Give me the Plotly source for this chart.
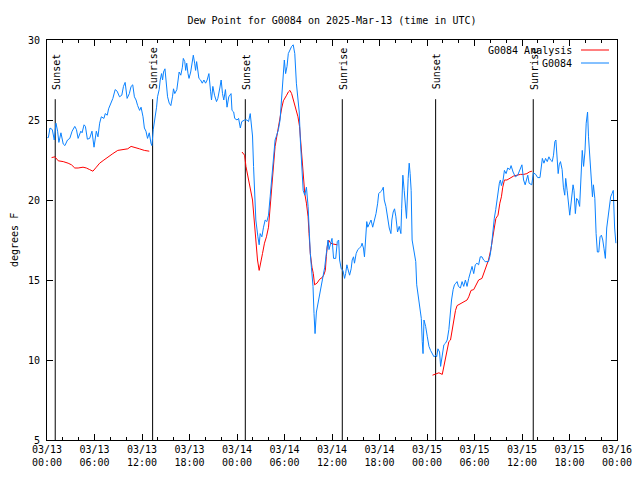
import pandas as pd
import plotly.graph_objects as go

START = pd.Timestamp("2025-03-13 00:00")
END = pd.Timestamp("2025-03-16 00:00")

# Observed dew point (G0084): hours since start, degrees F
obs_hours = [0.05, 0.17, 0.38, 0.67, 0.92, 1.13, 1.34, 1.5, 1.76, 2.05, 2.26, 2.59, 2.88, 3.17, 3.51, 3.72, 3.93,
             4.27, 4.43, 4.68, 4.85, 5.1, 5.39, 5.68, 5.94, 6.23, 6.44, 6.65, 6.86, 7.19, 7.36, 7.61, 7.78, 8.03,
             8.32, 8.61, 8.86, 9.16, 9.45, 9.66, 9.87, 10.12, 10.4, 10.62, 10.83, 11.04, 11.25, 11.45, 11.7, 11.88,
             12.13, 12.3, 12.5, 12.7, 12.92, 13.13, 13.25, 13.42, 13.63, 13.84, 13.96, 14.17, 14.3, 14.47, 14.6,
             14.72, 14.9, 15.02, 15.23, 15.44, 15.64, 15.85, 15.98, 16.14, 16.4, 16.56, 16.69, 16.9, 17.1, 17.22,
             17.4, 17.52, 17.65, 17.81, 17.94, 18.15, 18.35, 18.48, 18.65, 18.77, 18.9, 19.07, 19.19, 19.4, 19.61,
             19.82, 20.03, 20.23, 20.45, 20.66, 20.78, 20.95, 21.16, 21.41, 21.58, 21.83, 22.0, 22.17, 22.33,
             22.54, 22.74, 22.96, 23.25, 23.37, 23.58, 23.71, 24.0, 24.2, 24.42, 24.6, 24.96, 25.25, 25.46, 25.67,
             25.8, 25.96, 26.09, 26.21, 26.38, 26.64, 26.8, 26.93, 27.14, 27.35, 27.56, 27.77, 27.98, 28.19, 28.4,
             28.6, 28.81, 29.02, 29.23, 29.44, 29.65, 29.86, 29.98, 30.14, 30.32, 30.48, 30.69, 30.9, 31.1, 31.3,
             31.5, 31.7, 31.86, 32.0, 32.15, 32.36, 32.56, 32.77, 32.98, 33.1, 33.26, 33.4, 33.6, 33.73, 33.86,
             34.03, 34.24, 34.45, 34.66, 34.86, 35.08, 35.28, 35.5, 35.62, 35.8, 36.0, 36.2, 36.47, 36.67, 36.84,
             36.96, 37.17, 37.38, 37.59, 37.72, 37.88, 38.0, 38.22, 38.42, 38.55, 38.72, 38.84, 39.05, 39.26,
             39.47, 39.68, 39.8, 39.97, 40.1, 40.23, 40.39, 40.52, 40.73, 40.93, 41.14, 41.35, 41.56, 41.77, 41.9,
             42.1, 42.31, 42.48, 42.6, 42.81, 43.02, 43.23, 43.44, 43.56, 43.73, 43.9, 44.07, 44.28, 44.49, 44.7,
             44.8, 44.95, 45.12, 45.24, 45.41, 45.62, 45.75, 45.87, 46.0, 46.12, 46.38, 46.58, 46.7, 46.9, 47.1,
             47.28, 47.4, 47.5, 47.62, 47.83, 48.04, 48.25, 48.45, 48.66, 48.88, 49.1, 49.22, 49.38, 49.59, 49.72,
             49.93, 50.13, 50.34, 50.55, 50.76, 50.97, 51.1, 51.3, 51.47, 51.64, 51.8, 51.97, 52.22, 52.43, 52.64,
             52.85, 53.06, 53.27, 53.48, 53.69, 53.9, 54.1, 54.31, 54.52, 54.73, 54.94, 55.15, 55.36, 55.77, 55.98,
             56.16, 56.33, 56.5, 56.68, 56.85, 56.97, 57.14, 57.27, 57.4, 57.61, 57.78, 57.99, 58.2, 58.45, 58.62,
             58.87, 59.16, 59.46, 59.71, 59.99, 60.2, 60.4, 60.73, 60.9, 61.23, 61.44, 61.73, 61.98, 62.27, 62.4,
             62.57, 62.77, 62.98, 63.19, 63.4, 63.6, 63.82, 63.98, 64.15, 64.28, 64.4, 64.57, 64.7, 64.86, 65.07,
             65.23, 65.4, 65.52, 65.7, 65.86, 66.03, 66.24, 66.45, 66.57, 66.74, 66.9, 67.07, 67.28, 67.49, 67.61,
             67.78, 67.95, 68.11, 68.28, 68.4, 68.57, 68.74, 68.9, 69.02, 69.2, 69.36, 69.52, 69.7, 69.86, 70.03,
             70.2, 70.36, 70.53, 70.7, 70.87, 71.03, 71.2, 71.37, 71.53, 71.7, 71.86]
obs_values = [23.9, 23.9, 24.5, 24.4, 23.75, 24.8, 24.3, 23.6, 24.2, 23.5, 23.4, 23.75, 23.85, 24.3, 24.6, 24.4, 23.85,
              24.3, 24.2, 24.7, 24.6, 23.8, 23.85, 24.3, 23.3, 24.3, 23.95, 24.8, 25.2, 25.1, 25.4, 25.3, 25.7, 26.0,
              26.35, 26.9, 26.8, 26.45, 26.55, 27.1, 27.35, 26.35, 26.65, 27.1, 27.2, 26.45, 26.25, 25.9, 25.6, 25.8,
              25.2, 24.5, 24.3, 23.85, 24.2, 23.55, 23.4, 24.4, 25.0, 25.8, 26.45, 26.9, 27.5, 27.9, 27.5,
              28.0, 28.2, 27.7, 26.45, 26.05, 25.9, 26.45, 26.95, 26.65, 26.9, 27.5, 28.0, 27.8, 28.3, 28.85,
              28.65, 28.1, 28.55, 27.9, 27.6, 28.0, 28.65, 29.05, 28.55, 28.1, 28.65, 28.1, 27.6, 27.5, 27.3,
              27.5, 27.3, 27.5, 27.9, 26.8, 26.25, 27.1, 26.55, 26.15, 26.35, 27.0, 27.5, 26.65, 26.25,
              26.9, 25.8, 26.45, 26.65, 25.6, 25.5, 25.1, 25.0, 25.1, 24.5, 24.9, 25.0, 25.0, 24.9, 25.4,
              24.7, 24.0, 22.1, 20.4, 18.75, 17.7, 17.2, 17.9, 17.7, 18.3, 18.75, 18.65, 19.05, 20.2, 21.45,
              22.7, 23.75, 24.05, 24.4, 25.0, 26.25, 27.7, 28.75, 27.9, 28.35, 29.15, 29.4, 29.6, 29.7, 29.15,
              27.3, 26.25, 25.5, 23.75, 22.3, 20.6, 20.3, 20.8, 19.6, 17.9, 16.65, 15.8, 14.6, 12.9, 11.65,
              13.0, 13.55, 14.15, 14.6, 15.0, 15.8, 16.65, 17.5, 16.9, 17.3, 17.6, 16.35, 16.35, 17.4, 17.5,
              16.25, 15.7, 15.6, 15.1, 15.4, 15.95, 15.7, 15.3, 15.7, 16.25, 16.45, 16.05, 16.65, 16.9,
              17.0, 17.1, 17.3, 17.0, 16.45, 17.9, 18.65, 18.3, 18.55, 18.75, 18.3, 18.65, 19.15, 19.8, 20.4,
              20.5, 20.6, 20.8, 20.0, 19.6, 18.95, 18.25, 17.9, 18.75, 19.25, 19.45, 18.95, 18.0, 18.35, 17.9,
              19.45, 21.55, 20.6, 19.6, 18.85, 21.35, 22.3, 21.65, 20.6, 17.5, 16.55, 16.15, 14.7, 13.95, 13.45,
              12.6, 11.15, 10.4, 12.5, 12.1, 11.45, 10.85, 10.6, 10.4, 10.2, 10.3, 10.2, 10.7, 10.5, 9.6,
              10.2, 10.95, 11.05, 11.25, 11.9, 13.2, 13.75, 14.4, 14.7, 14.8, 14.9, 14.6, 14.5, 14.9, 14.6,
              15.0, 14.6, 15.1, 15.5, 15.85, 15.4, 15.95, 16.05, 15.95, 16.45, 16.45, 16.25, 16.15, 16.15, 16.55,
              17.2, 18.1, 18.85, 19.4, 20.0, 20.6, 21.05, 21.25, 20.9, 21.25, 21.85, 21.65, 22.0, 21.9, 22.15,
              21.75, 21.45, 21.55, 21.9, 22.2, 21.25, 20.95, 21.55, 21.05, 20.95, 21.7, 21.6, 21.4, 21.4, 22.1,
              22.6, 22.3, 22.6, 22.4, 22.7, 22.5, 22.4, 22.8, 23.65, 23.75, 22.6, 21.65, 22.2, 22.4, 21.9,
              20.8, 20.3, 21.35, 20.6, 20.0, 19.05, 20.0, 20.95, 20.6, 19.15, 20.1, 20.0, 19.6, 21.75, 23.1,
              22.1, 23.0, 24.8, 25.5, 23.95, 22.5, 21.25, 20.2, 20.95, 20.1, 17.9, 16.75, 16.75, 17.7, 17.8,
              17.5, 16.95, 16.35, 18.25, 19.05, 19.8, 20.2, 20.4, 20.6, 18.25, 17.3]

# Analysis dew point (G0084 Analysis); None marks gaps
ana_hours = [0.58, 1.0, 1.42, 2.05, 2.67, 3.09, 3.51, 3.93, 4.55, 4.97, 5.39, 5.8, 6.23, 6.65, 7.19, 7.69, 8.32,
             8.94, 9.57, 10.2, 10.62, 11.04, 11.67, 12.29, 12.92, 18.0,
             24.63, 24.96, 25.13, 25.38, 25.67, 25.96, 26.17, 26.38, 26.59, 26.8, 27.06, 27.22, 27.47, 27.72,
             27.98, 28.19, 28.4, 28.6, 28.81, 29.02, 29.23, 29.44, 29.65, 29.86, 30.06, 30.27, 30.48, 30.69,
             30.9, 31.1, 31.3, 31.5, 31.7, 31.9, 32.1, 32.36, 32.56, 32.77, 32.98, 33.1, 33.26, 33.47, 33.64,
             33.8, 34.1, 34.45, 34.75, 34.95, 35.16, 35.28, 35.4, 35.57, 35.83, 36.13, 36.42, 36.67, 42.0,
             48.7, 49.1, 49.5, 49.93, 50.13, 50.34, 50.55, 50.76, 50.97, 51.18, 51.39, 51.6, 51.8, 52.22, 52.64,
             53.06, 53.27, 53.56, 53.9, 54.22, 54.52, 54.94, 55.23, 55.48, 55.77, 56.06, 56.33, 56.5, 56.7,
             56.97, 57.2, 57.4, 57.57, 57.78, 58.1, 58.53, 58.95, 59.37, 59.79, 60.21, 60.62, 60.91, 61.25]
ana_values = [22.65, 22.7, 22.45, 22.4, 22.3, 22.2, 22.0, 22.0, 22.05, 22.0, 21.9, 21.8, 22.05, 22.3, 22.5, 22.7, 22.9,
              23.1, 23.15, 23.2, 23.35, 23.3, 23.2, 23.1, 23.05, None,
              23.0, 22.8, 22.1, 21.45, 20.6, 20.0, 18.75, 17.5, 16.25, 15.6, 16.15, 16.65, 17.3, 17.7,
              18.3, 19.6, 21.05, 22.3, 23.35, 23.95, 24.6, 25.1, 25.75, 26.2, 26.35, 26.55, 26.75, 26.85,
              26.65, 26.25, 25.85, 25.5, 25.2, 24.6, 23.35, 21.65, 20.4, 19.8, 18.95, 17.9, 16.65, 15.8, 15.4,
              14.7, 14.8, 15.05, 15.15, 15.3, 15.6, 16.45, 17.1, 17.5, 17.3, 17.25, 17.2, 17.2, None,
              9.05, 9.15, 9.2, 9.1, 9.6, 10.2, 10.85, 11.15, 11.25, 11.9, 12.5, 13.1, 13.4, 13.5, 13.6,
              13.75, 13.95, 14.35, 14.4, 14.7, 15.0, 15.1, 15.5, 15.95, 16.25, 16.9, 17.6, 18.25, 18.85,
              19.05, 19.8, 20.2, 20.8, 21.25, 21.25, 21.4, 21.5, 21.55, 21.6, 21.6, 21.65, 21.75, 21.8]

# Sun events: hours since start
sun_hours = [1.04, 13.34, 25.05, 37.3, 49.09, 61.42]
sun_labels = ["Sunset", "Sunrise", "Sunset", "Sunrise", "Sunset", "Sunrise"]
sun_line_top = 26.3

y_ticks = [5, 10, 15, 20, 25, 30]

FONT = "DejaVu Sans Mono"
BLUE = "#0a82ff"
RED = "#ff0000"

FIG_W, FIG_H = 624, 472  # page body has an 8px margin
M_L, M_R, M_T, M_B = 39, 15, 32, 40
PLOT_W = FIG_W - M_L - M_R
X0 = 8 + M_L  # page x of the plot's left edge


def px(page_x):
    return (page_x - X0) / PLOT_W


def to_time(h):
    return [None if v is None else START + pd.Timedelta(hours=v) for v in h]


fig = go.Figure()

# sunrise / sunset vertical lines
vx, vy = [], []
for h in sun_hours:
    t = START + pd.Timedelta(hours=h)
    vx += [t, t, None]
    vy += [5, sun_line_top, None]
fig.add_trace(go.Scatter(x=vx, y=vy, mode="lines", line=dict(color="black", width=1),
                         showlegend=False, hoverinfo="skip"))

fig.add_trace(go.Scatter(x=to_time(ana_hours), y=ana_values, mode="lines", name="G0084 Analysis",
                         line=dict(color=RED, width=1), connectgaps=False, showlegend=False))
fig.add_trace(go.Scatter(x=to_time(obs_hours), y=obs_values, mode="lines", name="G0084",
                         line=dict(color=BLUE, width=1), showlegend=False))

annotations = []
for h, lab in zip(sun_hours, sun_labels):
    annotations.append(dict(x=START + pd.Timedelta(hours=h), y=26.77, xref="x", yref="y", text=lab,
                            textangle=-90, showarrow=False, xanchor="center", yanchor="bottom", xshift=1,
                            font=dict(family=FONT, size=10, color="black")))

# legend (text right-aligned, sample line on its right as in gnuplot)
leg = [("G0084 Analysis", RED, 0.975), ("G0084", BLUE, 0.9425)]
shapes = []
for txt, col, yy in leg:
    annotations.append(dict(x=px(574), y=yy, xref="paper", yref="paper", text=txt, showarrow=False,
                            xanchor="right", yanchor="middle", font=dict(family=FONT, size=10, color="black")))
    shapes.append(dict(type="line", xref="paper", yref="paper", x0=px(581), x1=px(609), y0=yy, y1=yy,
                       line=dict(color=col, width=1)))

annotations.append(dict(x=px(14), y=0.5, xref="paper", yref="paper", text="degrees F", textangle=-90,
                        showarrow=False, xanchor="center", yanchor="middle",
                        font=dict(family=FONT, size=10, color="black")))

fig.update_layout(
    width=FIG_W, height=FIG_H,
    margin=dict(l=M_L, r=M_R, t=M_T, b=M_B, pad=0, autoexpand=False),
    paper_bgcolor="white", plot_bgcolor="white",
    font=dict(family=FONT, size=10, color="black"),
    title=dict(text="Dew Point for G0084 on 2025-Mar-13 (time in UTC)", x=(332 - 8) / FIG_W, xanchor="center",
               y=1 - 12 / FIG_H, yanchor="middle", font=dict(family=FONT, size=10, color="black")),
    showlegend=False,
    annotations=annotations,
    shapes=shapes,
)

fig.update_xaxes(
    type="date", range=[START, END], showgrid=False, zeroline=False, automargin=False,
    showline=True, linecolor="black", linewidth=1, mirror="allticks",
    ticks="inside", ticklen=6, tickcolor="black", tickwidth=1,
    tick0=START, dtick=6 * 3600 * 1000, tickformat="%m/%d<br>%H:%M",
    ticklabeloverflow="allow",
    minor=dict(dtick=2 * 3600 * 1000, ticks="inside", ticklen=3, tickcolor="black", showgrid=False),
    tickfont=dict(family=FONT, size=10, color="black"),
)
fig.update_yaxes(
    range=[5, 30], showgrid=False, zeroline=False, automargin=False,
    showline=True, linecolor="black", linewidth=1, mirror="allticks",
    ticks="inside", ticklen=6, tickcolor="black", tickwidth=1,
    tickvals=y_ticks, ticklabelstandoff=4,
    tickfont=dict(family=FONT, size=10, color="black"),
)

fig.write_html("out.html")
